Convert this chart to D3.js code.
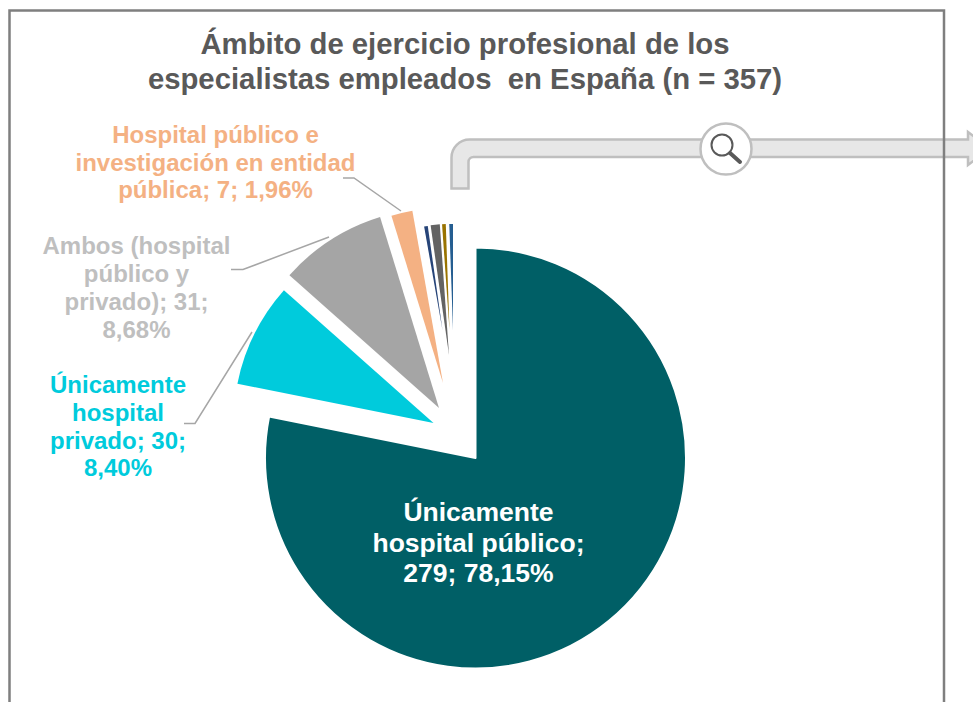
<!DOCTYPE html>
<html><head><meta charset="utf-8">
<script src="https://cdn.jsdelivr.net/npm/d3@7/dist/d3.min.js"></script>
<style>html,body{margin:0;padding:0;background:#fff}svg{display:block}</style>
</head><body><svg id="c" width="973" height="702"></svg>
<script>
const categories = ["Únicamente hospital público","Únicamente hospital privado","Ambos (hospital público y privado)","Hospital público e investigación en entidad pública","Otro 1","Otro 2","Otro 3","Otro 4"];
const values = [279,30,31,7,2,4,2,2];
const colors = ["#005F66","#00CBDC","#A5A5A5","#F4B183","#264478","#636363","#997300","#255E91"];
// layout of each exploded slice: apex position, radius and white outline
const apexX = [475.5,433.5,439,443,442.5,449,449.5,453];
const apexY = [458,423,408,383,330,355,330,330];
const radii = [210.5,200,200,175,105,131,106,106];
const outline = [2,0,0,0,0,0,0,0];
const titleLines = ["Ámbito de ejercicio profesional de los","especialistas empleados  en España (n = 357)"];
const labelLines = [
 ["Únicamente","hospital público;","279; 78,15%"],
 ["Únicamente","hospital","privado; 30;","8,40%"],
 ["Ambos (hospital","público y","privado); 31;","8,68%"],
 ["Hospital público e","investigación en entidad","pública; 7; 1,96%"]];
const labelColors = ["#fff","#00CBDC","#BFBFBF","#F4B183"];
const labelX = [478.5,118,136.5,215.5];
const labelY = [521,393,254,143];
const labelStep = [30.5,27.8,28,27.5];
const labelSize = [26.5,24,24,24];
const leaderLines = [
 [[184,423.5],[195,423.5],[252,332]],
 [[231,269.5],[243,269.5],[329,237]],
 [[343,178],[354,178],[401,211]]];

const svg = d3.select("#c");
const pie = d3.pie().value(d=>d).sort(null)(values);

// connector pipe
const pipe = d3.path();
pipe.moveTo(451.5,188.5); pipe.lineTo(451.5,158);
pipe.arcTo(451.5,139.5,470,139.5,18);
pipe.lineTo(968,139.5); pipe.lineTo(968,132); pipe.lineTo(990,148.5); pipe.lineTo(968,165);
pipe.lineTo(968,157); pipe.lineTo(473,157);
pipe.arcTo(468.5,157,468.5,162,5); pipe.lineTo(468.5,188.5); pipe.closePath();
svg.append("path").attr("d",pipe.toString()).attr("fill","#E7E7E7").attr("stroke","#BFBFBF").attr("stroke-width",2.5);

// frame
svg.append("path").attr("d","M9.5,702V10.5H944V702").attr("fill","none").attr("stroke","#7F7F7F").attr("stroke-width",2.5);

// magnifier
const m = svg.append("g").attr("transform","translate(726,149)");
m.append("circle").attr("r",25.5).attr("fill","#fff").attr("stroke","#BFBFBF").attr("stroke-width",2.5);
m.append("circle").attr("cx",-4).attr("cy",-4).attr("r",10.5).attr("fill","none").attr("stroke","#595959").attr("stroke-width",2);
m.append("line").attr("x1",4).attr("y1",4).attr("x2",14).attr("y2",13).attr("stroke","#595959").attr("stroke-width",4).attr("stroke-linecap","round");

// slices
svg.append("g").selectAll("path").data(pie).join("path")
 .attr("transform",(d,i)=>`translate(${apexX[i]},${apexY[i]})`)
 .attr("d",(d,i)=>d3.arc().innerRadius(0).outerRadius(radii[i])(d))
 .attr("fill",(d,i)=>colors[i])
 .attr("stroke",(d,i)=>outline[i]?"#fff":"none")
 .attr("stroke-width",(d,i)=>outline[i])
 .attr("stroke-linejoin","round");

// leader lines
const line = d3.line();
svg.append("g").selectAll("path").data(leaderLines).join("path")
 .attr("d",line).attr("fill","none").attr("stroke","#A6A6A6").attr("stroke-width",1.5);

// text
const font = "'Liberation Sans',Arial,sans-serif";
svg.append("g").selectAll("text").data(titleLines).join("text")
 .attr("x",465).attr("y",(d,i)=>54+i*35).attr("text-anchor","middle").attr("xml:space","preserve")
 .style("white-space","pre")
 .attr("font-family",font).attr("font-weight","bold").attr("font-size",29.3).attr("fill","#595959").text(d=>d);
labelLines.forEach((ls,i)=>{
 svg.append("g").selectAll("text").data(ls).join("text")
  .attr("x",labelX[i]).attr("y",(d,j)=>labelY[i]+j*labelStep[i]).attr("text-anchor","middle")
  .attr("font-family",font).attr("font-weight","bold").attr("font-size",labelSize[i]).attr("fill",labelColors[i]).text(d=>d);
});
</script></body></html>
